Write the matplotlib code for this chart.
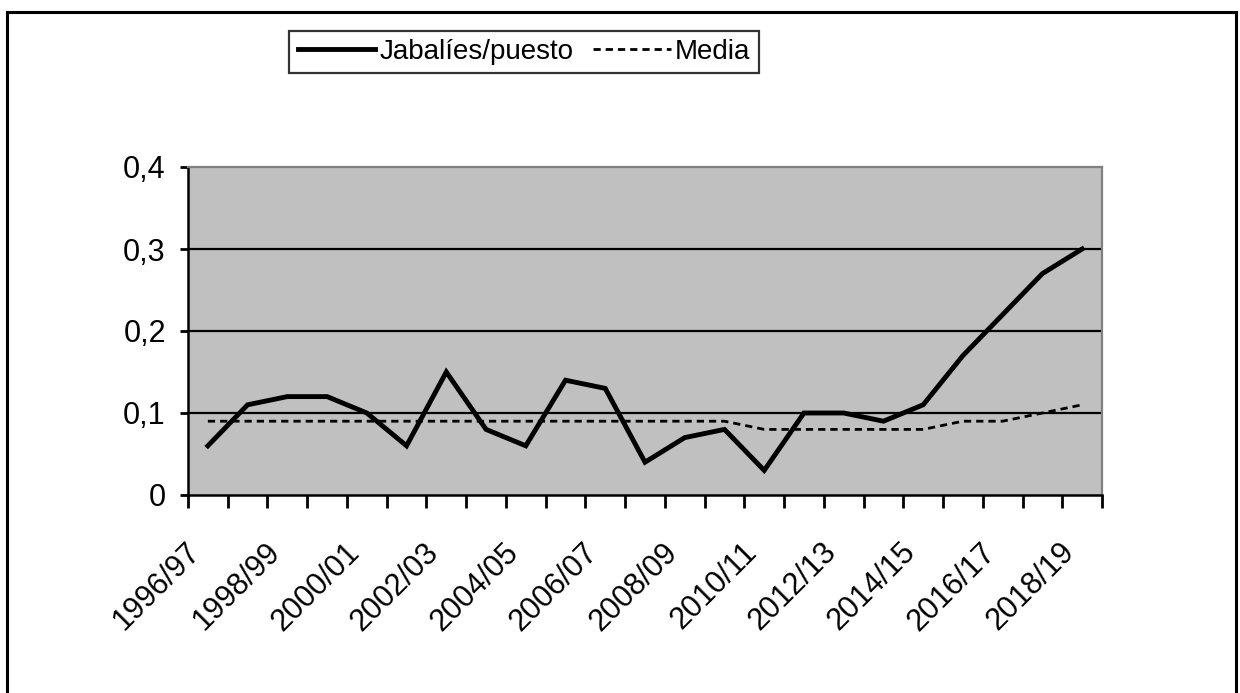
import matplotlib.pyplot as plt
from matplotlib.patches import Rectangle
from matplotlib.transforms import ScaledTranslation

plt.rcParams['font.family'] = ['Liberation Sans', 'DejaVu Sans']

# Seasons and values
seasons = ['1996/97', '1997/98', '1998/99', '1999/00', '2000/01', '2001/02',
           '2002/03', '2003/04', '2004/05', '2005/06', '2006/07', '2007/08',
           '2008/09', '2009/10', '2010/11', '2011/12', '2012/13', '2013/14',
           '2014/15', '2015/16', '2016/17', '2017/18', '2018/19']
jabalies = [0.06, 0.11, 0.12, 0.12, 0.10, 0.06, 0.15, 0.08, 0.06, 0.14, 0.13,
            0.04, 0.07, 0.08, 0.03, 0.10, 0.10, 0.09, 0.11, 0.17, 0.22, 0.27, 0.30]
media = [0.09, 0.09, 0.09, 0.09, 0.09, 0.09, 0.09, 0.09, 0.09, 0.09, 0.09,
         0.09, 0.09, 0.09, 0.08, 0.08, 0.08, 0.08, 0.08, 0.09, 0.09, 0.10, 0.11]
y_ticks = [0, 0.1, 0.2, 0.3, 0.4]
y_labels = ['0', '0,1', '0,2', '0,3', '0,4']

fig = plt.figure(figsize=(12.4, 6.93), dpi=100)
ax = fig.add_axes([188 / 1240, 1 - 495 / 693, (1102 - 188) / 1240, (495 - 167) / 693])
ax.set_facecolor('#C0C0C0')

x = list(range(1, len(seasons) + 1))
ax.plot(x, jabalies, color='black', lw=3.5, solid_joinstyle='miter',
        label='Jabalíes/puesto', zorder=3)
ax.plot(x, media, color='black', lw=2, linestyle=(0, (2.6, 1.8)),
        label='Media', zorder=3)

ax.set_xlim(0.5, len(seasons) + 0.5)
ax.set_ylim(0, 0.4)

# y axis
ax.set_yticks(y_ticks)
ax.set_yticklabels(y_labels)
ax.tick_params(axis='y', length=6, width=2, pad=10, labelsize=22, direction='out')
for yv in y_ticks[1:-1]:
    ax.axhline(yv, color='black', lw=1.6, zorder=1)

# x axis: ticks between categories, labels every other season
ax.set_xticks([i + 0.5 for i in range(len(seasons) + 1)], minor=True)
ax.set_xticks(x[::2])
ax.set_xticklabels(seasons[::2], rotation=45, ha='right', va='center',
                   rotation_mode='anchor')
ax.tick_params(axis='x', which='major', length=0, pad=38, labelsize=22)
ax.tick_params(axis='x', which='minor', length=9, width=2, direction='out')
shift = ScaledTranslation(-12 / 100, 0, fig.dpi_scale_trans)
for lab in ax.get_xticklabels():
    lab.set_transform(lab.get_transform() + shift)

for side in ['left', 'bottom']:
    ax.spines[side].set_color('black')
    ax.spines[side].set_linewidth(1.8)
for side in ['top', 'right']:
    ax.spines[side].set_color('#808080')
    ax.spines[side].set_linewidth(1.6)

leg = fig.legend(loc='center', bbox_to_anchor=(524 / 1240, 1 - 52 / 693), ncol=2,
                 fontsize=20, frameon=True, fancybox=False, edgecolor='black',
                 handlelength=2.8, handletextpad=0.15, columnspacing=0.7,
                 borderpad=0.3, borderaxespad=0)
leg.get_frame().set_linewidth(1.6)

# outer chart border
fig.patches.append(Rectangle((7 / 1240, -0.05), (1236 - 7) / 1240, 1.05 - 12 / 693,
                             transform=fig.transFigure, fill=False,
                             edgecolor='black', lw=2.2))

fig.savefig('out.png', dpi=100)
